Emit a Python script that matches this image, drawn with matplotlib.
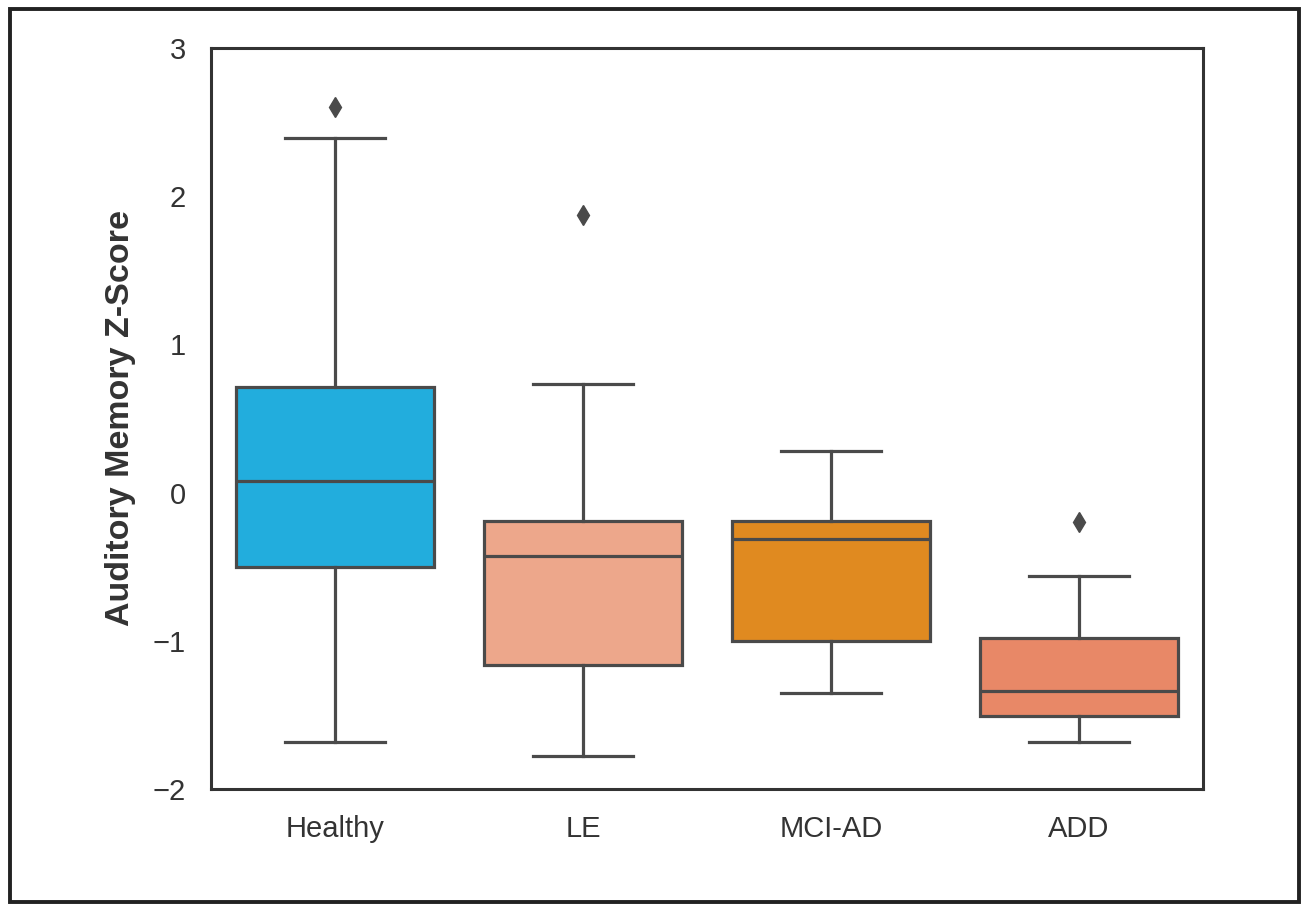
import matplotlib
matplotlib.use("Agg")
import matplotlib.pyplot as plt
from matplotlib.patches import Rectangle

groups = ["Healthy", "LE", "MCI-AD", "ADD"]
colors = ["#22ADDD", "#EDA78B", "#E08A20", "#E88867"]

# box stats
whislo = [-1.68, -1.78, -1.35, -1.68]
q1 = [-0.50, -1.16, -1.00, -1.51]
med = [0.08, -0.43, -0.31, -1.34]
q3 = [0.71, -0.19, -0.19, -0.98]
whishi = [2.39, 0.73, 0.28, -0.56]
fliers = [[2.60], [1.87], [], [-0.20]]

plt.rcParams['font.family'] = ['Liberation Sans', 'DejaVu Sans']

fig = plt.figure(figsize=(13.08, 9.07), dpi=100)
ax = fig.add_axes([0.1613, 0.1301, 0.7584, 0.8170])

stats = []
for i, g in enumerate(groups):
    stats.append({'label': g, 'whislo': whislo[i], 'q1': q1[i], 'med': med[i],
                  'q3': q3[i], 'whishi': whishi[i], 'fliers': fliers[i]})

lc = "#4a4a4a"
lw = 2.3
bp = ax.bxp(stats, positions=range(len(groups)), widths=0.8, patch_artist=True,
            boxprops=dict(edgecolor=lc, linewidth=lw),
            medianprops=dict(color=lc, linewidth=lw),
            whiskerprops=dict(color=lc, linewidth=lw),
            capprops=dict(color=lc, linewidth=lw),
            flierprops=dict(marker='d', markerfacecolor=lc, markeredgecolor=lc,
                            markersize=10))
for patch, c in zip(bp['boxes'], colors):
    patch.set_facecolor(c)
for cap in bp['caps']:
    x = cap.get_xdata()
    mid = (x[0] + x[1]) / 2
    cap.set_xdata([mid - 0.2, mid + 0.2])

ax.set_xlim(-0.5, 3.5)
ax.set_ylim(-2, 3)
ax.set_yticks([-2, -1, 0, 1, 2, 3])
ax.set_yticklabels(['\u22122', '\u22121', '0', '1', '2', '3'])
ax.set_xticks(range(len(groups)))
ax.set_xticklabels(groups)
ax.tick_params(axis='both', length=0, labelsize=21, colors='#333333')
ax.tick_params(axis='x', pad=19)
ax.tick_params(axis='y', pad=18)
ax.set_ylabel('Auditory Memory Z-Score', fontsize=24.5, fontweight='bold',
              color='#333333', labelpad=12)
for s in ax.spines.values():
    s.set_color('#333333')
    s.set_linewidth(2.2)

fig.patches.append(Rectangle((0.008, 0.006), 0.985, 0.984, transform=fig.transFigure,
                             fill=False, edgecolor='#222222', linewidth=2.8))

fig.savefig('out.png', dpi=100)
